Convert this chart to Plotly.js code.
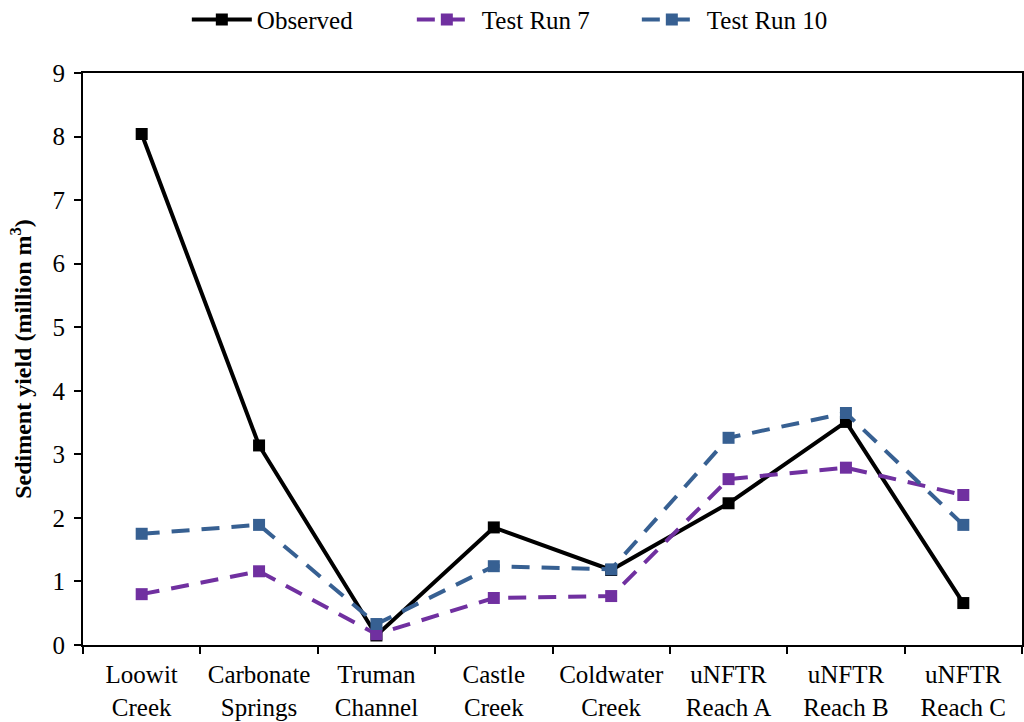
<!DOCTYPE html>
<html>
<head>
<meta charset="utf-8">
<script src="https://cdn.plot.ly/plotly-3.0.1.min.js"></script>
<style>html,body{margin:0;padding:0;background:#fff;}#chart{width:1024px;height:722px;}</style>
</head>
<body>
<div id="chart"></div>
<script>
const categories = ["Loowit<br>Creek","Carbonate<br>Springs","Truman<br>Channel","Castle<br>Creek","Coldwater<br>Creek","uNFTR<br>Reach A","uNFTR<br>Reach B","uNFTR<br>Reach C"];
const observed = [8.04, 3.14, 0.15, 1.85, 1.18, 2.23, 3.51, 0.66];
const testRun7 = [0.80, 1.16, 0.17, 0.74, 0.77, 2.61, 2.79, 2.36];
const testRun10 = [1.75, 1.89, 0.33, 1.24, 1.19, 3.26, 3.65, 1.89];

const font = {family: "'Liberation Serif', 'Times New Roman', Times, serif", color: "#000"};
const traces = [
  {x: categories, y: observed, name: "Observed", type: "scatter", mode: "lines+markers",
   line: {color: "#000000", width: 4}, marker: {symbol: "square", size: 12, color: "#000000"}},
  {x: categories, y: testRun7, name: "Test Run 7", type: "scatter", mode: "lines+markers",
   line: {color: "#7030A0", width: 4, dash: "18px,12px"}, marker: {symbol: "square", size: 12, color: "#7030A0"}},
  {x: categories, y: testRun10, name: "Test Run 10", type: "scatter", mode: "lines+markers",
   line: {color: "#376092", width: 4, dash: "18px,12px"}, marker: {symbol: "square", size: 12, color: "#376092"}}
];
const layout = {
  width: 1024, height: 722,
  margin: {l: 83, r: 2, t: 73, b: 77, autoexpand: false},
  paper_bgcolor: "#fff", plot_bgcolor: "#fff",
  font: Object.assign({size: 24}, font),
  showlegend: true,
  legend: {orientation: "h", x: 0.47, xanchor: "center", y: 1.093, yanchor: "middle",
    font: Object.assign({size: 25}, font), itemwidth: 60, entrywidth: 150, tracegroupgap: 0},
  xaxis: {type: "category", showline: true, linecolor: "#000", linewidth: 2, mirror: true,
    ticks: "outside", tickson: "boundaries", ticklen: 7, tickcolor: "#000", tickwidth: 1.5,
    showgrid: false, zeroline: false, tickfont: Object.assign({size: 25}, font),
    ticklabelstandoff: 6, range: [-0.5, 7.5], automargin: false},
  yaxis: {range: [0, 9], dtick: 1, showline: true, linecolor: "#000", linewidth: 2, mirror: true,
    ticks: "outside", ticklen: 7, tickcolor: "#000", tickwidth: 1.5, showgrid: false, zeroline: false,
    tickfont: Object.assign({size: 25}, font), ticklabelstandoff: 4, automargin: false,
    title: {text: "<b>Sediment yield (million m<sup>3</sup>)</b>", font: Object.assign({size: 24}, font), standoff: 14}}
};
Plotly.newPlot("chart", traces, layout, {displayModeBar: false});
</script>
</body>
</html>
